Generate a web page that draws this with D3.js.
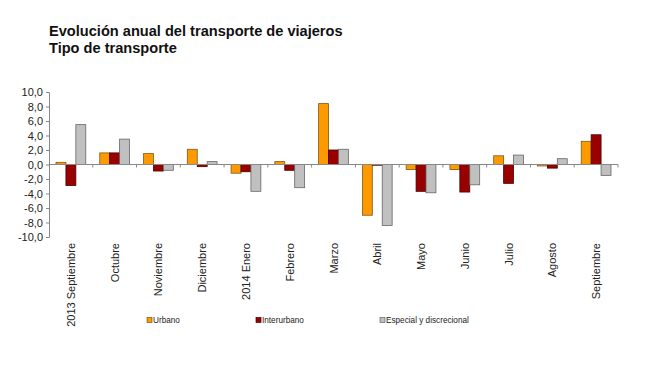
<!DOCTYPE html>
<html>
<head>
<meta charset="utf-8">
<script src="https://cdn.jsdelivr.net/npm/d3@7"></script>
<style>
  body { margin: 0; background: #fff; }
  svg text { font-family: "Liberation Sans", Arial, sans-serif; }
</style>
</head>
<body>
<div id="chart"></div>
<script>
const months = ["2013 Septiembre", "Octubre", "Noviembre", "Diciembre", "2014 Enero", "Febrero",
    "Marzo", "Abril", "Mayo", "Junio", "Julio", "Agosto", "Septiembre"]
const seriesNames = ["Urbano", "Interurbano", "Especial y discrecional"]
const urbano = [0.3, 1.6, 1.5, 2.1, -1.2, 0.4, 8.4, -7.0, -0.7, -0.7, 1.2, -0.2, 3.2]
const interurbano = [-2.9, 1.6, -0.9, -0.3, -1.0, -0.8, 2.0, -0.1, -3.7, -3.8, -2.6, -0.5, 4.1]
const especial = [5.5, 3.5, -0.8, 0.4, -3.7, -3.2, 2.1, -8.4, -3.9, -2.8, 1.3, 0.8, -1.5]
const yTicks = [10, 8, 6, 4, 2, 0, -2, -4, -6, -8, -10]

const colors = ["#ff9900", "#990000", "#c0c0c0"]
const strokes = ["#7a5a1a", "#4a0000", "#666666"]

const width = 650, height = 375
const margin = { top: 92, right: 32, bottom: 138, left: 49 }

const svg = d3.select("#chart").append("svg")
    .attr("width", width)
    .attr("height", height)

// title
svg.append("text")
    .attr("x", 49).attr("y", 36)
    .attr("font-size", 14.6).attr("font-weight", "bold").attr("fill", "#111")
    .text("Evolución anual del transporte de viajeros")
svg.append("text")
    .attr("x", 49).attr("y", 53)
    .attr("font-size", 14.6).attr("font-weight", "bold").attr("fill", "#111")
    .text("Tipo de transporte")

const x0 = d3.scaleBand()
    .domain(months)
    .range([margin.left, width - margin.right])
    .paddingInner(0.32).paddingOuter(0.16)

const x1 = d3.scaleBand()
    .domain(seriesNames)
    .range([0, x0.bandwidth()])

const xStep = d3.scaleBand().domain(months).range([margin.left, width - margin.right])

const y = d3.scaleLinear()
    .domain([-10, 10])
    .range([height - margin.bottom, margin.top])

// y axis
const yAxis = d3.axisLeft(y)
    .tickValues(yTicks)
    .tickSize(3)
    .tickFormat(d => d3.format(".1f")(d).replace(".", ",").replace("−", "-"))

const gy = svg.append("g")
    .attr("transform", `translate(${margin.left},0)`)
    .call(yAxis)
gy.select(".domain").attr("stroke", "#888")
gy.selectAll(".tick line").attr("stroke", "#888")
gy.selectAll(".tick text").attr("font-size", 11).attr("fill", "#222").attr("x", -6)

// bars
const data = [urbano, interurbano, especial]
const groups = svg.append("g").selectAll("g")
    .data(months)
    .join("g")
    .attr("transform", d => `translate(${x0(d)},0)`)

groups.selectAll("rect")
    .data((m, i) => data.map((s, k) => ({ key: seriesNames[k], k: k, value: s[i] })))
    .join("rect")
    .attr("x", d => x1(d.key))
    .attr("y", d => y(Math.max(0, d.value)))
    .attr("width", x1.bandwidth())
    .attr("height", d => Math.abs(y(d.value) - y(0)))
    .attr("fill", d => colors[d.k])
    .attr("stroke", d => strokes[d.k])
    .attr("stroke-width", 0.8)

// x axis at zero
const gx = svg.append("g")
    .attr("transform", `translate(0,${y(0)})`)
gx.append("line")
    .attr("x1", margin.left).attr("x2", width - margin.right)
    .attr("stroke", "#888")
gx.selectAll(".xt")
    .data(months)
    .join("line")
    .attr("class", "xt")
    .attr("x1", d => xStep(d) + xStep.bandwidth())
    .attr("x2", d => xStep(d) + xStep.bandwidth())
    .attr("y1", 0).attr("y2", 3)
    .attr("stroke", "#888")

// category labels
svg.append("g").selectAll("text")
    .data(months)
    .join("text")
    .attr("transform", d => `translate(${xStep(d) + xStep.bandwidth() / 2 + 4},${y(-10) + 6}) rotate(-90)`)
    .attr("text-anchor", "end")
    .attr("font-size", 11)
    .attr("fill", "#222")
    .text(d => d)

// legend
const legendX = [147, 256, 380]
const legend = svg.append("g").selectAll("g")
    .data(seriesNames)
    .join("g")
    .attr("transform", (d, i) => `translate(${legendX[i]},323)`)
legend.append("rect")
    .attr("x", 0).attr("y", -5.5)
    .attr("width", 5).attr("height", 5)
    .attr("fill", (d, i) => colors[i])
    .attr("stroke", (d, i) => strokes[i])
    .attr("stroke-width", 0.7)
legend.append("text")
    .attr("x", 6).attr("y", 0)
    .attr("font-size", 8.2)
    .attr("fill", "#222")
    .text(d => d)
</script>
</body>
</html>
